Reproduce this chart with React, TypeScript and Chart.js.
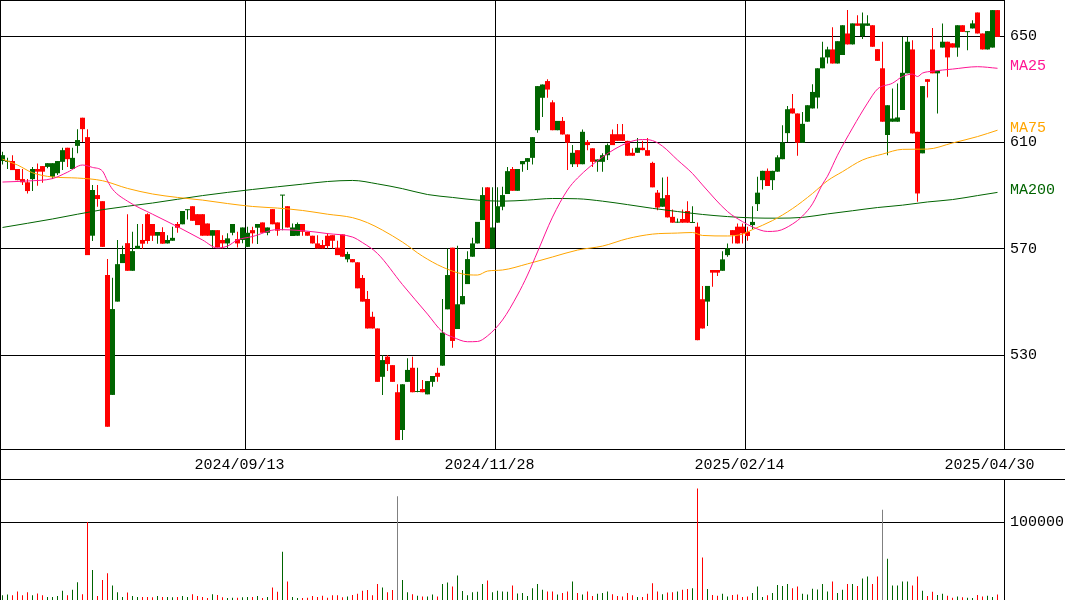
import React, { useEffect, useRef } from 'react';
import { Chart, registerables } from 'chart.js';

Chart.register(...registerables);

// ---- data (one entry per trading day, oldest first) ----
const opens = [
  603.0, 602.7, 603.0, 600.0, 596.2, 595.0, 596.2, 600.0, 601.1, 600.8,
  597.1, 598.4, 602.7, 608.0, 600.0, 608.7, 619.3, 612.0, 574.9, 590.2,
  587.9, 560.1, 515.0, 550.1, 564.6, 572.1, 561.7, 569.9, 573.3, 583.0,
  579.3, 574.9, 576.3, 572.0, 573.0, 579.3, 579.2, 584.5, 586.0, 583.0,
  583.0, 579.5, 574.9, 577.0, 573.3, 572.0, 576.0, 573.6, 573.3, 570.7,
  577.0, 577.9, 579.9, 576.0, 584.9, 579.9, 590.0, 586.0, 574.8, 574.9,
  579.3, 576.4, 574.9, 572.0, 571.4, 574.9, 575.1, 570.4, 575.4, 566.0,
  566.1, 564.9, 559.0, 551.1, 544.4, 540.0, 521.8, 529.4, 526.2, 516.0,
  501.8, 519.9, 525.2, 516.1, 517.2, 515.2, 519.9, 523.3, 526.0, 547.2,
  570.4, 539.8, 549.1, 556.7, 567.0, 572.0, 580.8, 593.1, 570.1, 579.8,
  585.8, 590.6, 600.0, 591.8, 601.8, 602.7, 604.2, 614.6, 626.8, 633.1,
  625.1, 614.6, 618.1, 613.0, 601.8, 607.1, 601.8, 610.2, 607.8, 602.7,
  602.7, 605.2, 613.1, 613.1, 613.1, 610.6, 606.1, 606.1, 608.0, 607.1,
  602.3, 591.1, 585.8, 590.2, 582.0, 579.8, 581.2, 584.2, 579.7, 578.3,
  551.0, 550.1, 562.0, 562.0, 561.7, 567.6, 577.0, 578.3, 578.3, 576.4,
  578.9, 586.8, 595.8, 599.3, 595.8, 599.0, 603.7, 613.5, 622.8, 620.9,
  609.9, 617.8, 622.8, 626.9, 637.9, 642.0, 645.0, 639.7, 642.9, 651.0,
  646.9, 654.8, 650.0, 653.9, 654.1, 645.1, 637.9, 612.8, 617.8, 617.8,
  622.2, 636.0, 645.0, 614.0, 605.9, 633.8, 645.0, 636.0, 645.7, 647.9,
  647.3, 645.7, 654.1, 651.5, 652.9, 658.9, 651.0, 645.0, 645.7, 659.8,
];
const highs = [
  606.5, 604.2, 605.2, 600.0, 600.0, 596.2, 600.8, 602.1, 601.1, 602.2,
  602.2, 603.0, 608.0, 608.0, 608.0, 615.0, 619.3, 615.0, 594.0, 594.0,
  587.9, 566.1, 559.1, 573.3, 571.1, 583.0, 576.4, 579.3, 579.3, 583.4,
  579.3, 576.3, 578.1, 575.1, 578.3, 580.1, 584.2, 584.8, 586.0, 583.0,
  583.0, 579.5, 577.0, 577.0, 575.1, 575.8, 579.3, 576.4, 578.0, 578.3,
  578.3, 579.3, 579.9, 578.0, 584.9, 579.9, 590.2, 586.0, 579.5, 579.9,
  579.3, 576.4, 574.9, 575.1, 573.3, 575.8, 575.1, 573.0, 575.4, 568.9,
  566.1, 564.9, 560.1, 554.1, 546.3, 540.0, 530.0, 530.0, 526.2, 519.0,
  519.0, 528.8, 529.4, 525.2, 520.6, 520.2, 522.1, 525.2, 551.1, 570.1,
  570.4, 571.1, 562.0, 569.1, 574.1, 580.1, 593.1, 593.1, 593.1, 593.1,
  593.3, 600.8, 600.8, 600.0, 603.0, 604.1, 612.0, 631.2, 631.8, 633.8,
  625.9, 618.1, 619.6, 613.0, 609.0, 607.1, 614.9, 610.9, 607.8, 603.6,
  605.9, 609.6, 614.9, 616.9, 616.9, 610.6, 607.8, 611.7, 610.6, 611.7,
  602.7, 592.1, 596.8, 597.1, 584.8, 581.4, 584.8, 587.9, 586.0, 579.9,
  556.0, 556.0, 562.0, 562.0, 569.1, 572.0, 577.0, 579.5, 579.5, 578.3,
  586.0, 597.1, 599.3, 600.2, 599.3, 605.2, 616.5, 623.7, 628.2, 620.9,
  621.5, 624.0, 631.9, 637.9, 647.9, 646.0, 653.3, 648.1, 654.1, 659.8,
  654.8, 657.9, 658.9, 657.9, 654.1, 645.1, 647.9, 624.0, 630.3, 632.2,
  649.7, 649.7, 648.5, 614.0, 631.2, 633.8, 653.1, 637.0, 654.8, 647.9,
  647.3, 654.1, 654.1, 651.7, 656.0, 658.9, 651.0, 651.9, 659.8, 659.8,
];
const lows = [
  601.7, 600.0, 599.6, 595.8, 594.0, 590.8, 591.7, 593.7, 594.8, 600.3,
  596.2, 597.7, 599.6, 600.8, 600.0, 605.9, 610.2, 567.6, 572.9, 585.8,
  570.7, 503.0, 515.0, 550.1, 564.6, 561.7, 561.7, 569.9, 569.9, 571.9,
  572.9, 571.9, 571.9, 572.0, 573.0, 576.0, 579.2, 581.0, 580.5, 578.9,
  574.9, 574.9, 570.4, 570.5, 570.1, 570.1, 575.1, 570.5, 572.1, 570.7,
  572.0, 571.8, 576.0, 575.1, 579.2, 574.9, 577.0, 578.0, 574.8, 574.9,
  574.9, 574.9, 572.0, 570.1, 570.1, 570.1, 570.1, 567.6, 567.0, 564.9,
  564.9, 555.1, 550.1, 540.0, 540.0, 519.9, 515.0, 524.0, 519.9, 498.0,
  498.0, 519.9, 516.0, 516.0, 516.0, 515.2, 518.1, 519.9, 526.0, 547.2,
  532.7, 539.8, 549.1, 556.7, 567.0, 572.0, 580.8, 570.1, 570.1, 579.8,
  584.5, 590.6, 591.8, 591.8, 599.0, 599.6, 601.7, 613.6, 619.6, 626.8,
  614.6, 614.6, 613.0, 599.6, 600.8, 600.8, 601.8, 607.1, 600.8, 599.0,
  599.0, 603.4, 609.0, 610.6, 610.6, 605.0, 605.0, 606.1, 607.1, 605.0,
  593.1, 584.5, 585.8, 581.8, 579.8, 579.8, 579.8, 579.8, 579.7, 535.6,
  540.0, 540.9, 555.7, 559.7, 561.7, 567.0, 572.0, 572.0, 572.0, 573.0,
  577.3, 584.2, 592.3, 593.6, 592.1, 599.0, 603.7, 610.2, 620.9, 605.0,
  609.9, 617.8, 622.8, 622.8, 637.9, 639.7, 639.7, 639.7, 642.9, 646.9,
  646.9, 653.9, 648.9, 653.9, 646.0, 640.7, 617.8, 605.2, 617.8, 617.8,
  622.2, 636.0, 613.4, 587.7, 605.9, 626.9, 636.0, 620.9, 645.7, 634.7,
  645.7, 642.2, 651.6, 644.7, 652.9, 651.0, 645.0, 645.0, 645.7, 649.7,
];
const closes = [
  605.2, 603.0, 599.6, 595.8, 595.0, 591.7, 600.0, 599.0, 599.0, 602.2,
  602.2, 603.0, 607.1, 603.7, 604.2, 610.9, 615.0, 567.6, 592.1, 588.7,
  570.7, 503.0, 547.3, 564.2, 568.0, 561.7, 569.1, 571.1, 571.9, 572.9,
  574.9, 576.3, 571.9, 573.3, 574.1, 577.9, 584.2, 584.8, 580.5, 578.9,
  574.9, 574.9, 577.0, 570.5, 572.0, 573.9, 579.3, 572.0, 578.0, 576.0,
  575.8, 579.3, 576.0, 578.0, 579.2, 576.8, 590.2, 578.0, 578.0, 579.3,
  576.4, 574.9, 572.0, 570.1, 570.1, 571.0, 573.0, 567.6, 567.0, 568.0,
  564.9, 555.1, 550.1, 540.0, 540.0, 519.9, 528.1, 526.6, 519.9, 498.0,
  519.0, 524.4, 516.0, 516.3, 516.0, 520.2, 522.1, 521.8, 538.4, 560.1,
  535.3, 549.1, 552.2, 566.1, 572.0, 580.1, 590.2, 570.1, 578.0, 586.0,
  590.2, 599.2, 591.8, 600.0, 603.0, 604.1, 612.0, 631.2, 631.8, 629.9,
  614.6, 618.1, 613.0, 609.9, 606.1, 601.8, 614.0, 609.0, 602.7, 603.6,
  605.2, 609.0, 609.0, 610.6, 610.6, 605.0, 605.0, 608.0, 607.1, 605.0,
  593.1, 585.5, 589.0, 581.8, 579.8, 580.0, 579.8, 579.8, 579.9, 535.6,
  540.0, 556.0, 561.0, 561.0, 566.0, 570.1, 575.1, 572.0, 575.8, 574.8,
  580.1, 591.1, 599.3, 593.6, 599.3, 604.4, 610.0, 622.5, 620.9, 609.9,
  617.0, 624.0, 629.0, 637.9, 642.0, 645.0, 639.7, 648.1, 654.1, 646.9,
  654.8, 653.9, 654.8, 654.8, 646.0, 640.7, 617.8, 624.0, 619.0, 619.4,
  636.2, 647.9, 613.4, 590.8, 631.2, 632.8, 636.0, 637.0, 647.9, 642.0,
  645.7, 654.1, 651.6, 651.7, 654.8, 651.0, 645.0, 651.9, 659.8, 649.7,
];
const volumes = [
  6000, 7000, 6000, 11000, 6000, 10000, 6000, 8500, 6000, 4000,
  4000, 5000, 12000, 6000, 13000, 22700, 7500, 100000, 38600, 5000,
  25700, 34300, 18500, 9900, 4000, 9500, 5000, 4000, 4000, 4000,
  3500, 5000, 4000, 4000, 3500, 4000, 5000, 4000, 7500, 5000,
  4000, 2500, 7500, 6500, 3500, 2500, 3000, 3000, 3500, 4000,
  4000, 5000, 2500, 4000, 15900, 10700, 61800, 23600, 4000, 2500,
  2500, 3000, 5000, 4000, 5500, 3000, 6000, 6000, 3500, 4500,
  6500, 8000, 12000, 12900, 6000, 20600, 15900, 9900, 12900, 133000,
  25700, 9900, 7500, 5500, 4500, 4500, 7000, 4500, 20600, 22300,
  17200, 31300, 11500, 6000, 10000, 10500, 20600, 24900, 10000, 12000,
  11000, 10500, 18500, 8500, 9000, 5000, 15000, 20600, 13000, 11000,
  11000, 7000, 9000, 11000, 23600, 9000, 7000, 11000, 5000, 8000,
  9000, 11000, 7500, 5000, 4500, 9000, 6000, 4000, 4000, 8000,
  21500, 11000, 7500, 9500, 10000, 11000, 13000, 14000, 15000, 143000,
  54500, 14000, 6500, 5500, 8000, 4500, 6500, 7000, 4000, 4500,
  9000, 17200, 4000, 6000, 9000, 19300, 18000, 20600, 15000, 17200,
  8000, 7000, 14500, 13500, 20600, 11000, 23600, 9000, 13000, 20600,
  20600, 18000, 27500, 30000, 20600, 30000, 115900, 52800, 18500, 18500,
  23600, 23600, 18500, 30000, 12000, 5000, 10700, 6500, 8000, 5500,
  3000, 4500, 3500, 3000, 2500, 6500, 4500, 5500, 4000, 7000,
];
// moving averages: [day index, price]
const ma25Points = [
  [0, 595.1], [5, 595.5], [10, 596.4], [13, 598.8], [16, 601.5], [18, 600.6], [20, 599.2],
  [21, 595.5], [22, 592.4], [25, 587.9], [30, 583.0], [35, 578.3], [40, 573.3], [43, 570.3],
  [45, 571.0], [47, 573.3], [50, 574.6], [55, 577.2], [60, 576.8], [65, 575.7], [70, 574.4],
  [72, 572.3], [75, 568.2], [80, 556.5], [85, 545.4], [88, 538.7], [90, 536.8], [93, 535.0],
  [95, 535.1], [97, 537.2], [100, 543.2], [103, 552.6], [105, 560.1], [107, 568.8], [110, 581.9],
  [113, 592.1], [115, 596.6], [120, 604.5], [125, 609.9], [128, 611.1], [130, 610.7], [132, 608.6],
  [135, 603.4], [138, 598.3], [140, 594.0], [145, 584.0], [148, 580.2], [150, 578.2], [153, 576.5],
  [155, 576.7], [158, 579.3], [160, 582.3], [162, 586.9], [164, 594.3], [165, 597.3], [167, 605.2],
  [170, 615.4], [173, 624.8], [175, 630.1], [178, 632.3], [180, 634.8], [182, 635.7], [183, 634.8],
  [184, 636.1], [186, 636.8], [190, 637.6], [195, 638.5], [199, 637.9],
];
const ma75Points = [
  [0, 603.7], [3, 601.5], [6, 598.6], [10, 597.0], [15, 596.6], [20, 595.6], [25, 592.7],
  [30, 590.6], [35, 589.3], [40, 588.3], [45, 587.0], [50, 585.9], [55, 585.3], [60, 584.4],
  [65, 583.0], [70, 581.7], [73, 579.8], [76, 577.0], [80, 572.5], [84, 567.2], [88, 563.1],
  [92, 560.5], [95, 560.1], [97, 561.6], [100, 562.0], [105, 564.3], [110, 566.9], [115, 569.5],
  [120, 571.0], [125, 573.8], [130, 575.5], [135, 575.9], [138, 576.1], [140, 575.0], [145, 574.8],
  [148, 575.5], [150, 577.2], [154, 580.6], [158, 585.1], [162, 590.8], [165, 595.6], [168, 599.0],
  [172, 603.4], [176, 605.6], [180, 607.4], [185, 607.5], [190, 609.8], [195, 612.2], [199, 614.6],
];
const ma200Points = [
  [0, 578.0], [10, 581.2], [20, 584.7], [30, 587.2], [40, 590.0], [50, 592.3], [60, 594.3],
  [65, 595.3], [70, 595.7], [75, 594.4], [80, 592.6], [85, 590.4], [90, 589.3], [95, 588.3],
  [100, 587.9], [105, 588.3], [110, 588.9], [115, 588.8], [120, 587.9], [125, 586.6], [130, 585.2],
  [135, 584.0], [140, 582.9], [145, 582.1], [150, 581.6], [155, 581.5], [160, 581.8], [165, 583.1],
  [170, 584.3], [175, 585.5], [180, 586.4], [185, 587.6], [190, 588.5], [195, 590.0], [199, 591.2],
];
const dateTickIndex = [49, 99, 149, 199];
const dateTickLabels = ['2024/09/13', '2024/11/28', '2025/02/14', '2025/04/30'];
const priceTicks = [530, 570, 610, 650];
const volumeTicks = [100000];

// ---- styling ----
const FONT = '"Liberation Mono", "DejaVu Sans Mono", monospace';
const UP = '#006400';
const DOWN = '#ff0000';
const GRAY = '#808080';
const MA25_COLOR = '#ff1493';
const MA75_COLOR = '#ffa500';
const MA200_COLOR = '#006400';
const PRICE_MIN = 494.64;
const PRICE_MAX = 663.6;
const VOL_MAX = 154000;
const X_MIN = -0.5;
const X_MAX = 200.3;
const GRID_NUDGE = 0.02;
const volumeGrayDays = new Set([79, 176]);

const maSeries = [
  { label: 'MA25', points: ma25Points, color: MA25_COLOR },
  { label: 'MA75', points: ma75Points, color: MA75_COLOR },
  { label: 'MA200', points: ma200Points, color: MA200_COLOR },
];

const maLabelPlugin = {
  id: 'maLabels',
  afterDraw(chart: any) {
    const { ctx, chartArea, scales } = chart;
    ctx.save();
    ctx.font = `15px ${FONT}`;
    ctx.textAlign = 'left';
    ctx.textBaseline = 'middle';
    maSeries.forEach((s) => {
      const last = s.points[s.points.length - 1][1];
      ctx.fillStyle = s.color;
      ctx.fillText(s.label, chartArea.right + 6, scales.y.getPixelForValue(last) - 2);
    });
    ctx.restore();
  },
};

export default function App() {
  const mainRef = useRef<HTMLCanvasElement>(null);
  const volRef = useRef<HTMLCanvasElement>(null);

  useEffect(() => {
    document.body.style.margin = '0';
    Chart.defaults.font.family = FONT;
    Chart.defaults.font.size = 15;
    Chart.defaults.color = '#000';

    const idx = opens.map((_, i) => i);
    const candleColors = idx.map((i) => (closes[i] >= opens[i] ? UP : DOWN));
    const volColors = idx.map((i) => (volumeGrayDays.has(i) ? GRAY : candleColors[i]));

    const maDatasets = maSeries.map((s) => ({
      type: 'line' as const,
      label: s.label,
      data: s.points.map(([x, y]) => ({ x, y })),
      borderColor: s.color,
      borderWidth: 1,
      pointRadius: 0,
      fill: false,
      cubicInterpolationMode: 'monotone' as const,
    }));

    const main = new Chart(mainRef.current as HTMLCanvasElement, {
      type: 'bar',
      data: {
        datasets: [
          ...maDatasets,
          {
            type: 'bar',
            label: 'body',
            data: idx.map((i) => ({ x: i, y: [opens[i], closes[i]] })) as any,
            backgroundColor: candleColors,
            barThickness: 5,
            grouped: false,
            minBarLength: 1,
            borderWidth: 0,
            inflateAmount: 0,
          } as any,
          {
            type: 'bar',
            label: 'wick',
            data: idx.map((i) => ({ x: i, y: [lows[i], highs[i]] })) as any,
            backgroundColor: candleColors,
            barThickness: 1,
            grouped: false,
            borderWidth: 0,
            inflateAmount: 0,
          } as any,
        ],
      },
      options: {
        responsive: false,
        animation: false,
        devicePixelRatio: 1,
        events: [],
        layout: { padding: 0 },
        plugins: { legend: { display: false }, tooltip: { enabled: false } },
        scales: {
          x: {
            type: 'linear',
            position: 'bottom',
            min: X_MIN,
            max: X_MAX,
            offset: false,
            afterBuildTicks: (s: any) => {
              s.ticks = dateTickIndex.map((i) => ({ value: i - 0.5 + GRID_NUDGE }));
            },
            afterFit: (s: any) => {
              s.height = 30;
              s.paddingLeft = 0;
              s.paddingRight = 0;
            },
            grid: {
              offset: false,
              drawTicks: false,
              lineWidth: 1,
              color: (c: any) => (c.index === dateTickIndex.length - 1 ? 'rgba(0,0,0,0)' : '#000'),
            },
            border: { display: false },
            ticks: {
              autoSkip: false,
              maxRotation: 0,
              minRotation: 0,
              padding: 7,
              labelOffset: -5.5,
              color: '#000',
              font: { family: FONT, size: 15 },
              callback: (_v: any, i: number) => dateTickLabels[i],
            },
          } as any,
          y: {
            type: 'linear',
            position: 'right',
            min: PRICE_MIN,
            max: PRICE_MAX,
            beginAtZero: false,
            afterBuildTicks: (s: any) => {
              s.ticks = priceTicks.map((v) => ({ value: v }));
            },
            afterFit: (s: any) => {
              s.width = 61;
              s.paddingTop = 0;
              s.paddingBottom = 0;
            },
            grid: { color: '#000', lineWidth: 1, drawTicks: false },
            border: { display: true, color: '#000', width: 1 },
            ticks: {
              padding: 6,
              color: '#000',
              font: { family: FONT, size: 15 },
              callback: (v: any) => String(v),
            },
          } as any,
        },
      },
      plugins: [maLabelPlugin],
    });

    const vol = new Chart(volRef.current as HTMLCanvasElement, {
      type: 'bar',
      data: {
        datasets: [
          {
            label: 'volume',
            data: idx.map((i) => ({ x: i, y: volumes[i] })) as any,
            backgroundColor: volColors,
            barThickness: 1,
            borderWidth: 0,
            inflateAmount: 0,
          } as any,
        ],
      },
      options: {
        responsive: false,
        animation: false,
        devicePixelRatio: 1,
        events: [],
        layout: { padding: 0 },
        plugins: { legend: { display: false }, tooltip: { enabled: false } },
        scales: {
          x: {
            type: 'linear',
            display: false,
            min: X_MIN,
            max: X_MAX,
            offset: false,
            grid: { offset: false },
          } as any,
          y: {
            type: 'linear',
            position: 'right',
            min: 0,
            max: VOL_MAX,
            afterBuildTicks: (s: any) => {
              s.ticks = volumeTicks.map((v) => ({ value: v }));
            },
            afterFit: (s: any) => {
              s.width = 61;
              s.paddingTop = 0;
              s.paddingBottom = 0;
            },
            grid: { color: '#000', lineWidth: 1, drawTicks: false },
            border: { display: true, color: '#000', width: 1 },
            ticks: {
              padding: 6,
              color: '#000',
              font: { family: FONT, size: 15 },
              callback: (v: any) => String(v),
            },
          } as any,
        },
      },
    });

    return () => {
      main.destroy();
      vol.destroy();
    };
  }, []);

  const line = (style: React.CSSProperties) => (
    <div style={{ position: 'absolute', background: '#000', ...style }} />
  );

  return (
    <div style={{ position: 'relative', width: 1065, height: 600, background: '#fff', overflow: 'hidden' }}>
      <canvas ref={mainRef} width={1065} height={479} style={{ position: 'absolute', left: 0, top: 0, width: 1065, height: 479 }} />
      <canvas ref={volRef} width={1065} height={120} style={{ position: 'absolute', left: 0, top: 480, width: 1065, height: 120 }} />
      {line({ left: 0, top: 0, width: 1, height: 600 })}
      {line({ left: 0, top: 0, width: 1005, height: 1 })}
      {line({ left: 0, top: 449, width: 1065, height: 1 })}
      {line({ left: 0, top: 479, width: 1065, height: 1 })}
    </div>
  );
}
